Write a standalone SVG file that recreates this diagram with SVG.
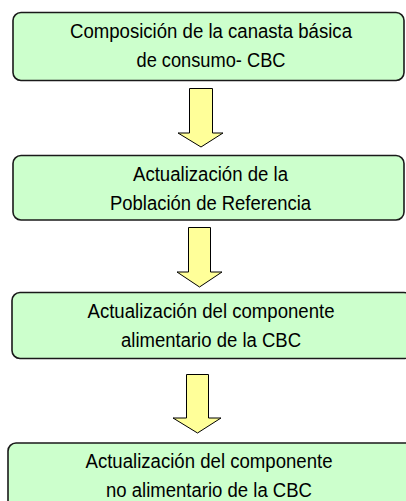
<svg xmlns="http://www.w3.org/2000/svg" width="406" height="501" viewBox="0 0 406 501">
<style>
.box{fill:#CCFFCC;stroke:#1a1a1a;stroke-width:1.6}
.arr{fill:#FFFF99;stroke:#000;stroke-width:1}
text{font-family:"Liberation Sans",Arial,sans-serif;font-size:19.5px;fill:#000;text-anchor:middle}
</style>
<rect width="406" height="501" fill="#fff"/>
<g id="connectors">
<polygon class="arr" points="189.5,88.5 212.5,88.5 212.5,133 223,133 201,147 178,133 189.5,133"/>
<polygon class="arr" points="188.5,227.5 210.5,227.5 210.5,272 222,272 199.5,287 177,272 188.5,272"/>
<polygon class="arr" points="186.5,374.5 208.5,374.5 208.5,418 221,418 197.5,433 173,418 186.5,418"/>
</g>
<g id="n1">
<rect class="box" x="13" y="12.5" width="391" height="68" rx="8"/>
<text x="211" y="38" textLength="282" lengthAdjust="spacingAndGlyphs">Composición de la canasta básica</text>
<text x="211" y="67" textLength="149" lengthAdjust="spacingAndGlyphs">de consumo- CBC</text>
</g>
<g id="n2">
<rect class="box" x="13" y="155.5" width="391" height="64.5" rx="8"/>
<text x="210.5" y="181" textLength="155" lengthAdjust="spacingAndGlyphs">Actualización de la</text>
<text x="210.5" y="210" textLength="201" lengthAdjust="spacingAndGlyphs">Población de Referencia</text>
</g>
<g id="n3">
<rect class="box" x="12" y="292.5" width="400" height="66" rx="8"/>
<text x="211" y="318" textLength="247" lengthAdjust="spacingAndGlyphs">Actualización del componente</text>
<text x="211" y="347" textLength="180" lengthAdjust="spacingAndGlyphs">alimentario de la CBC</text>
</g>
<g id="n4">
<rect class="box" x="8" y="443" width="406" height="70" rx="8"/>
<text x="209" y="468" textLength="247" lengthAdjust="spacingAndGlyphs">Actualización del componente</text>
<text x="209" y="497" textLength="206" lengthAdjust="spacingAndGlyphs">no alimentario de la CBC</text>
</g>
</svg>
